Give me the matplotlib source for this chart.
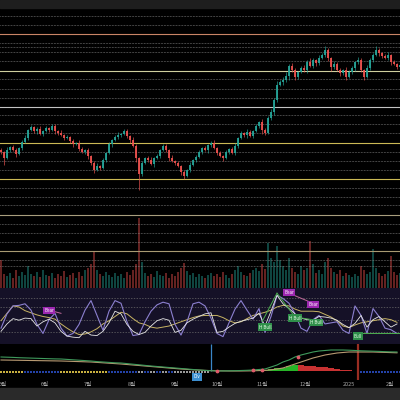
import numpy as np
import matplotlib.pyplot as plt
from matplotlib.patches import Rectangle

plt.rcParams['font.family'] = ['Noto Sans CJK KR', 'Noto Sans CJK JP', 'DejaVu Sans']

# ---- price data (daily bars, arbitrary price units) ----
closes = [148, 142, 150, 153, 150, 146, 152, 158, 162, 170,
          173, 169, 171, 166, 169, 172, 170, 174, 169, 167,
          165, 162, 163, 159, 156, 157, 151, 148, 150, 144,
          137, 130, 134, 132, 140, 147, 156, 160, 163, 165,
          166, 169, 164, 160, 154, 142, 126, 137, 142, 140,
          136, 142, 144, 150, 154, 150, 142, 139, 137, 134,
          128, 124, 130, 135, 140, 143, 148, 152, 150, 155,
          157, 152, 147, 144, 142, 148, 151, 147, 154, 162,
          167, 165, 168, 164, 169, 174, 178, 170, 167, 182,
          188, 200, 215, 218, 220, 224, 234, 230, 223, 228,
          232, 230, 238, 234, 240, 237, 242, 245, 250, 242,
          233, 236, 230, 227, 230, 223, 228, 232, 238, 240,
          230, 223, 232, 240, 245, 250, 247, 244, 242, 245,
          238, 236, 233, 235]
first_open = 150

wick_up = [2, 1, 3, 1, 2, 2, 1, 2, 3, 1, 2, 1, 2, 3, 1, 2, 1, 2, 2, 1,
           3, 1, 2, 1, 2, 1, 3, 2, 1, 2, 1, 2, 3, 1, 2, 1, 2, 1, 2, 3,
           1, 2, 2, 1, 3, 2, 1, 2, 1, 2, 3, 1, 2, 1, 2, 2, 1, 3, 1, 2,
           1, 2, 1, 3, 1, 2, 2, 1, 2, 1, 2, 3, 1, 2, 1, 2, 1, 2, 3, 1,
           2, 1, 3, 2, 1, 2, 1, 3, 2, 2, 3, 2, 4, 2, 3, 4, 2, 3, 2, 1,
           2, 3, 2, 4, 2, 1, 3, 2, 4, 2, 1, 3, 2, 2, 1, 3, 2, 2, 1, 3,
           2, 1, 3, 2, 2, 4, 2, 1, 2, 3, 1, 2, 1, 2]
wick_dn = [2, 7, 1, 2, 1, 3, 1, 2, 1, 2, 1, 2, 3, 1, 2, 1, 2, 1, 3, 2,
           1, 2, 1, 2, 3, 1, 2, 1, 2, 3, 2, 3, 1, 2, 1, 2, 1, 3, 1, 2,
           2, 1, 2, 3, 1, 4, 16, 2, 1, 2, 1, 3, 1, 2, 1, 2, 3, 1, 2, 1,
           3, 3, 1, 2, 1, 2, 1, 2, 1, 3, 2, 1, 2, 1, 3, 1, 2, 1, 2, 2,
           1, 2, 3, 1, 2, 1, 2, 4, 2, 1, 2, 3, 2, 1, 3, 2, 4, 2, 3, 2,
           1, 2, 3, 1, 2, 3, 2, 1, 2, 3, 4, 2, 1, 3, 2, 3, 1, 2, 3, 2,
           2, 3, 1, 2, 2, 1, 3, 2, 1, 2, 3, 1, 2, 2]

volumes = [28, 14, 12, 15, 10, 18, 12, 16, 13, 22, 14, 12, 16, 11, 18, 13, 12, 15, 10, 14,
           12, 17, 11, 13, 15, 10, 16, 12, 18, 20, 24, 37, 18, 14, 12, 16, 13, 11, 15, 12,
           14, 10, 16, 13, 18, 24, 70, 26, 15, 12, 14, 11, 17, 13, 12, 15, 10, 14, 12, 16,
           20, 25, 17, 13, 15, 11, 14, 12, 10, 13, 15, 12, 14, 11, 16, 13, 10, 14, 18, 22,
           16, 13, 12, 15, 18, 20, 17, 24, 19, 45, 30, 26, 42, 28, 22, 18, 30, 20, 16, 14,
           22, 18, 20, 47, 24, 15, 18, 14, 26, 30, 20, 16, 14, 18, 12, 15, 13, 11, 14, 12,
           22, 18, 14, 16, 39, 20, 15, 12, 14, 17, 32, 16, 13, 15]

# horizontal price levels (major = solid)
levels = [284, 275, 266, 257, 253, 248, 239, 229, 221, 211, 202, 193, 185, 176, 167,
          157, 148, 139, 130, 121, 112, 103, 95, 85, 76, 67, 58, 49, 40, 34]
major_colors = {266: '#c98466', 229: '#cfcf9f', 193: '#c4c4c4', 157: '#cbb955',
                121: '#cbb955', 85: '#a89e7e', 49: '#a89a72'}

# ---- oscillator panel (one value every 2 bars) ----
osc_fast = [28, 55, 70, 71, 74, 62, 35, 18, 44, 56, 28, 13, 18, 35, 62, 80, 52, 24, 60, 80,
            75, 40, 14, 16, 40, 60, 72, 77, 74, 35, 15, 40, 74, 77, 70, 47, 18, 12, 38, 64,
            80, 62, 45, 65, 20, 50, 90, 84, 75, 55, 28, 22, 44, 52, 36, 38, 40, 24, 18, 70,
            52, 18, 65, 50, 28, 25, 18]
osc_rsi = [22, 36, 46, 43, 47, 46, 32, 40, 45, 38, 22, 13, 11, 10, 22, 15, 14, 22, 38, 60,
           55, 35, 22, 16, 20, 32, 42, 46, 43, 20, 24, 38, 45, 50, 55, 57, 20, 22, 30, 37,
           41, 44, 47, 56, 32, 60, 90, 74, 65, 55, 47, 44, 43, 50, 49, 47, 43, 35, 29, 37,
           52, 30, 44, 50, 40, 30, 36]
osc_slow = [42, 56, 70, 68, 61, 57, 53, 50, 48, 45, 36, 28, 21, 16, 17, 21, 27, 36, 42, 50,
            58, 55, 46, 38, 35, 30, 28, 30, 32, 36, 40, 44, 48, 51, 52, 52, 52, 48, 42, 38,
            40, 46, 52, 55, 58, 62, 68, 71, 70, 64, 60, 60, 60, 59, 54, 49, 42, 32, 29, 34,
            38, 40, 42, 44, 46, 44, 39]
osc_levels = [85, 67, 43, 21]

div_labels = ['Bear', 'H Bull', 'Bear', 'H Bull', 'Bear', 'H Bull', 'Bull']
div_x = [16, 88, 96, 98, 104, 105, 119]
div_y = [62, 30, 96, 47, 72, 38, 13]
bull_lines = [((87, 40), (92, 94)), ((92, 94), (98, 49)), ((98, 49), (105, 43)),
              ((119, 19), (133, 19))]
bear_lines = [((96, 94), (104, 75)), ((16, 62), (20, 56))]

# ---- MACD panel (one value every 2 bars) ----
macd_line = [14, 13.8, 13.6, 13.3, 13.1, 12.9, 12.7, 12.5, 12.3, 12.1, 12, 11.6, 11.2, 10.8,
             10.4, 10, 9.4, 9, 8.6, 8.2, 8, 7.4, 6.8, 6.2, 5.6, 5, 4.5, 4, 3.5, 3, 2.5, 2,
             1.5, 1, 0.6, 0.3, 0, 0.1, 0.2, 0.3, 0.5, 0.7, 1, 1.5, 2, 4, 6, 9, 11, 14, 16,
             17.5, 19, 20, 20.5, 21, 21, 21, 20.8, 20.5, 20.2, 20, 19.8, 19.6, 19.3, 19.1, 19]
signal_line = [11, 10.9, 10.8, 10.7, 10.6, 10.5, 10.4, 10.3, 10.2, 10.1, 10, 9.8, 9.6, 9.4,
               9.2, 9, 8.6, 8.2, 7.8, 7.4, 7, 6.5, 6, 5.5, 5, 4.5, 4, 3.5, 3, 2.5, 2, 1.6,
               1.2, 0.9, 0.6, 0.4, 0.2, 0.1, 0, 0, 0, 0.1, 0.2, 0.4, 0.6, 1.2, 2, 3, 5, 7, 9,
               11, 13, 14.5, 16, 17, 18, 18.5, 19, 19, 19, 19, 19, 18.8, 18.6, 18.4, 18.2]
hist = [0] * 42 + [0.5, 1, 1.5, 2, 3, 3.5, 5, 6, 5.7, 5.3, 5, 4.5, 4, 3, 2.5, 1.5, 0.8, 0.3] + [0] * 7
squeeze = "yyyy" + "bbbbbb" + "yyyyyyyy" + "bbbb" + "bwbwbwb" + "wwwwww" + "n" * 25 + "bbbbbbb"
cross_bars = [72, 84, 87, 99]
signal_bars = [70, 119]

month_pos = [0.7, 14.7, 29, 43.7, 58, 72, 87, 101.3, 116, 129.7]
month_labels = ['5월', '6월', '7월', '8월', '9월', '10월', '11월', '12월', '2025', '2월']

UP, DOWN = '#26a69a', '#ef5350'

fig = plt.figure(figsize=(4, 4), dpi=100, facecolor='black')
fig.add_artist(Rectangle((0, 392 / 400), 1, 8 / 400, transform=fig.transFigure, color='#1e1e1e'))
fig.add_artist(Rectangle((0, 0), 1, 12 / 400, transform=fig.transFigure, color='#2a2a2a'))

xlim = (-1 / 3, 133)
x = np.arange(len(closes))
closes = np.array(closes, dtype=float)
opens = np.concatenate([[first_open], closes[:-1]])
highs = np.maximum(opens, closes) + np.array(wick_up)
lows = np.minimum(opens, closes) - np.array(wick_dn)
colors = np.where(closes >= opens, UP, DOWN)

# main price panel
ax = fig.add_axes([0, 0.28, 1, 0.70])
ax.set_facecolor('none')
ax.set_xlim(*xlim)
ax.set_ylim(12, 292)
ax.axis('off')
for lv in levels:
    if lv in major_colors:
        ax.axhline(lv, color=major_colors[lv], lw=0.8, zorder=1)
    else:
        ax.axhline(lv, color='#8e8e8e', lw=0.55, ls=(0, (0.8, 1.2)), zorder=1)

vax = ax.twinx()
vax.set_ylim(0, 280)
vax.axis('off')
vax.bar(x, volumes, width=0.75, color=colors, alpha=0.42, zorder=2)

ax.set_zorder(vax.get_zorder() + 1)
ax.vlines(x, lows, highs, color=colors, lw=0.5, alpha=0.9, zorder=3)
ax.bar(x, np.maximum(np.abs(closes - opens), 0.6), bottom=np.minimum(opens, closes),
       width=0.6, color=colors, alpha=0.9, zorder=4)

# oscillator panel
k = np.arange(0, len(closes), 2)
oax = fig.add_axes([0, 0.14, 1, 0.14])
oax.set_facecolor('black')
oax.set_xlim(*xlim)
oax.set_ylim(-1.9, 103.8)
oax.axis('off')
oax.axhspan(0, 103.8, color='#151127', zorder=0)
for lv in osc_levels:
    oax.axhline(lv, color='#6a6a6a', lw=0.5, ls=(0, (2, 2)), zorder=1)
oax.plot(k, osc_slow, color='#c8b464', lw=0.7, zorder=2)
oax.plot(k, osc_fast, color='#8c80d0', lw=0.8, zorder=3)
oax.plot(k, osc_rsi, color='#e6e6e6', lw=0.6, zorder=4)
for (x0, y0), (x1, y1) in bull_lines:
    oax.plot([x0, x1], [y0, y1], color='#4caf50', lw=0.7, zorder=5)
for (x0, y0), (x1, y1) in bear_lines:
    oax.plot([x0, x1], [y0, y1], color='#c06a9a', lw=0.7, zorder=5)
for lab, lx, ly in zip(div_labels, div_x, div_y):
    bull = 'Bull' in lab
    oax.text(lx, ly, lab, fontsize=3.2, ha='center', va='center', zorder=6,
             color='#e8ffe8' if bull else 'white',
             bbox=dict(boxstyle='square,pad=0.25', fc='#2f8f4a' if bull else '#9c27b0', ec='none'))

# MACD panel
max_ = fig.add_axes([0, 0.05, 1, 0.09])
max_.set_facecolor('none')
max_.set_xlim(*xlim)
max_.set_ylim(-9, 27)
for s in max_.spines.values():
    s.set_visible(False)
max_.set_yticks([])
hist_arr = np.array(hist, dtype=float)
rising = np.concatenate([[True], hist_arr[1:] >= hist_arr[:-1]])
max_.bar(k, hist_arr, width=1.9, color=np.where(rising, '#27b427', '#c83232'), zorder=2)
sq_colors = {'y': '#c8b040', 'b': '#2442a8', 'w': '#9a9a9a'}
sq_x = [xi for xi in x if squeeze[xi // 2] != 'n']
sq_c = [sq_colors[squeeze[xi // 2]] for xi in x if squeeze[xi // 2] != 'n']
max_.scatter(sq_x, np.full(len(sq_x), -0.8), marker='s', s=3.5, c=sq_c, lw=0, zorder=3)
max_.plot(k, signal_line, color='#b89a72', lw=0.8, zorder=4)
max_.plot(k, macd_line, color='#3f9a5c', lw=0.8, zorder=5)
max_.scatter(cross_bars, [macd_line[b // 2] for b in cross_bars], s=3, color='#e05a6a', zorder=6)
max_.vlines(signal_bars[0], 0, 27, color='#3a86c8', lw=0.9, zorder=1)
max_.axvline(signal_bars[1], color='#c0392b', lw=1.6, alpha=0.8, zorder=1)
max_.text(65.3, -6, 'Div', fontsize=3.2, ha='center', va='center', color='white',
          bbox=dict(boxstyle='square,pad=0.3', fc='#3d8fd0', ec='none'), zorder=7)
max_.set_xticks(month_pos, month_labels)
max_.tick_params(axis='x', length=0, pad=1.5, labelsize=4, colors='#a8a8a8')

fig.savefig('out.png', dpi=100, facecolor='black')
